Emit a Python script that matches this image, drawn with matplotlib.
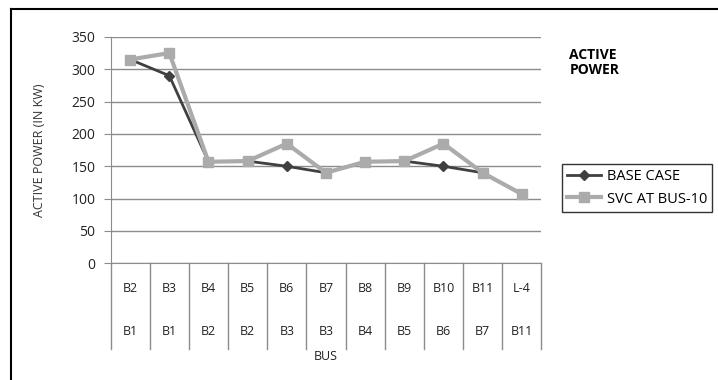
import matplotlib.pyplot as plt
from matplotlib.lines import Line2D
import matplotlib.transforms as mtransforms

plt.rcParams['font.family'] = ['Open Sans', 'DejaVu Sans']

# bus pairs (sending end on top row, receiving end below)
top_row = ['B2', 'B3', 'B4', 'B5', 'B6', 'B7', 'B8', 'B9', 'B10', 'B11', 'L-4']
bottom_row = ['B1', 'B1', 'B2', 'B2', 'B3', 'B3', 'B4', 'B5', 'B6', 'B7', 'B11']

# active power in kW
base_case = [315, 290, 157, 158, 150, 140, 157, 158, 150, 140, 107]
svc_bus10 = [315, 325, 157, 158, 185, 140, 157, 158, 185, 140, 107]

fig = plt.figure(figsize=(7.18, 3.8), dpi=100)
ax = fig.add_axes([0.154, 0.307, 0.600, 0.596])

x = list(range(len(top_row)))
ax.plot(x, base_case, color='#404040', lw=2, marker='D', ms=5,
        label='BASE CASE', zorder=3)
ax.plot(x, svc_bus10, color='#ababab', lw=3, marker='s', ms=7.5,
        label='SVC AT BUS-10', zorder=4)

ax.set_xlim(-0.5, len(top_row) - 0.5)
ax.set_ylim(0, 350)
ax.set_yticks(range(0, 351, 50))
ax.yaxis.grid(True, color='#8c8c8c', lw=1)
ax.set_axisbelow(True)
ax.tick_params(axis='y', length=5, color='#8c8c8c', labelsize=10, pad=6,
               labelcolor='#222222')
ax.set_xticks([])
for s in ['top', 'right']:
    ax.spines[s].set_visible(False)
for s in ['left', 'bottom']:
    ax.spines[s].set_color('#8c8c8c')

ax.set_ylabel('ACTIVE POWER (IN KW)', fontsize=9, color='#333333', labelpad=18)

# two-row category table under the axis
trans = mtransforms.blended_transform_factory(ax.transData, ax.transAxes)
for i in range(len(top_row) + 1):
    ax.add_line(Line2D([i - 0.5, i - 0.5], [0, -0.38], transform=trans,
                       color='#8c8c8c', lw=1, clip_on=False))
for i, (a, b) in enumerate(zip(top_row, bottom_row)):
    ax.text(i, -0.109, a, transform=trans, ha='center', va='center',
            fontsize=9, color='#222222')
    ax.text(i, -0.30, b, transform=trans, ha='center', va='center',
            fontsize=9, color='#222222')
ax.text(5, -0.41, 'BUS', transform=trans, ha='center', va='center',
        fontsize=9, color='#222222')

fig.text(0.793, 0.835, 'ACTIVE\nPOWER', fontsize=10, fontweight='bold',
         ha='left', va='center', multialignment='left', linespacing=1.05)

leg = fig.legend(loc='upper left', bbox_to_anchor=(0.783, 0.568),
                 fontsize=10.5, frameon=True, fancybox=False, handlelength=2.3,
                 borderpad=0.35, labelspacing=0.5, handletextpad=0.4,
                 borderaxespad=0)
leg.get_frame().set_edgecolor('#000000')
leg.get_frame().set_linewidth(1)

# outer frame around the chart
fig.add_artist(Line2D([0.015, 1.0], [0.976, 0.976], transform=fig.transFigure,
                      color='black', lw=1.5))
fig.add_artist(Line2D([0.015, 0.015], [0.0, 0.976], transform=fig.transFigure,
                      color='black', lw=1.5))

fig.savefig('out.png', dpi=100)
